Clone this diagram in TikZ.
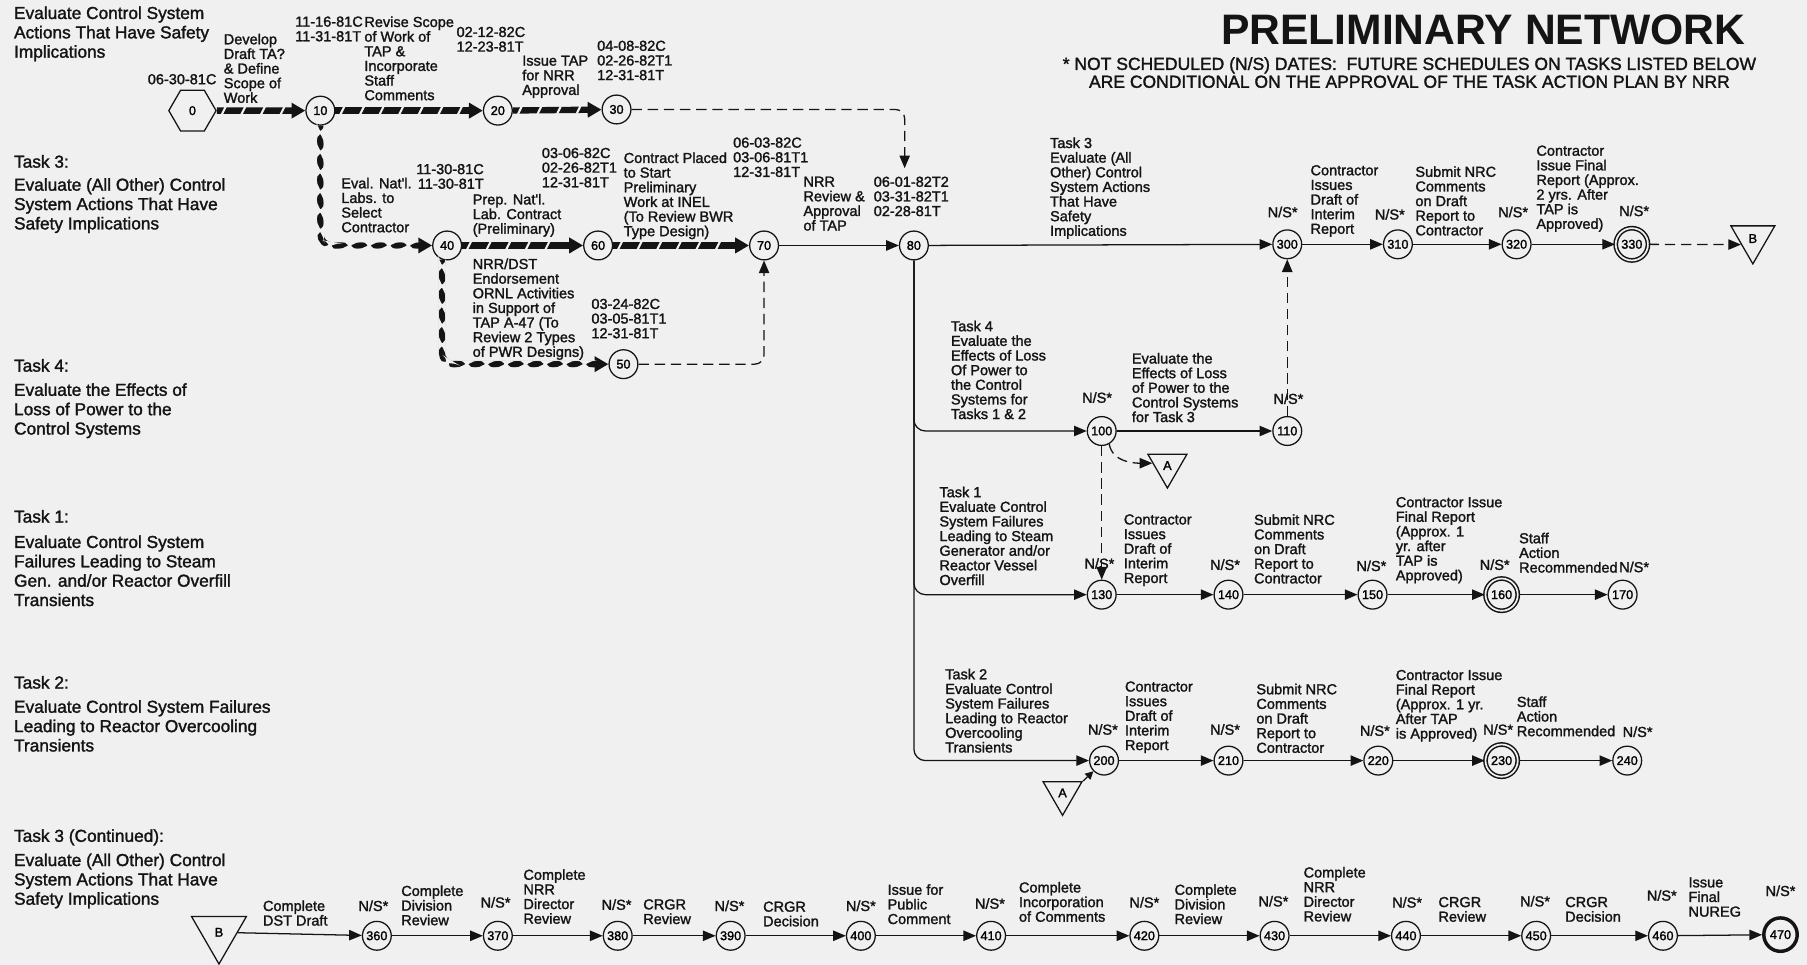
\documentclass[tikz,border=0pt]{standalone}
\usepackage{fontspec}
\setmainfont{Liberation Sans}
\newfontfamily\hv{Liberation Sans}[FakeBold=1.6]
\usetikzlibrary{arrows.meta,shapes.geometric,decorations.markings}
\definecolor{bg}{RGB}{240,240,240}
\definecolor{ink}{RGB}{20,20,20}
\newcommand\lbf{\hv\fontsize{12.6}{12.7}\selectfont}
\newcommand\lff{\hv\fontsize{15}{16.8}\selectfont}
\newcommand\evf{\hv\fontsize{11}{11}\selectfont}
\begin{document}
\begin{tikzpicture}[x=1pt,y=-1pt,
  ev/.style={circle,draw=ink,line width=1.1pt,minimum size=25pt,inner sep=0pt,font=\evf,fill=bg},
  dbl/.style={ev,double=bg,double distance=1.5pt,line width=1.3pt,minimum size=28pt},
  thk/.style={ev,line width=3pt,minimum size=29pt},
  hexa/.style={regular polygon,regular polygon sides=6,draw=ink,line width=1.1pt,minimum size=41pt,inner sep=0pt,font=\evf},
  tri/.style={regular polygon,regular polygon sides=3,shape border rotate=180,draw=ink,line width=1.1pt,inner sep=0pt,font=\evf,fill=bg},
  lbl/.style={font=\lbf,align=left,inner sep=0pt,anchor=north west,yshift=4.9pt,text=ink},
  lblr/.style={lbl,align=right,anchor=north east},
  lft/.style={font=\lff,align=left,inner sep=0pt,anchor=north west,yshift=5.6pt,text=ink},
  ns/.style={font=\lbf,inner sep=0pt,text=ink},
  ar/.style={draw=ink,line width=1.1pt,-{Triangle[length=11pt,width=9pt]}},
  dsh/.style={ar,dash pattern=on 9pt off 5pt},
  crit/.style={draw=ink,line width=5.5pt,-{Triangle[length=12pt,width=13pt]},
     postaction={decorate,decoration={markings,
       mark=between positions 6pt and -16pt step 17pt with {\fill[bg] (-2.6pt,-3.2pt) -- (-0.6pt,-3.2pt) -- (2.6pt,3.2pt) -- (0.6pt,3.2pt) -- cycle;}}}}
]
\fill[bg] (0,0) rectangle (1568,837);
\useasboundingbox (0,0) rectangle (1568,837);

% ---------- events ----------
\node[hexa] (n0) at (167,96) {0};
\node[ev] (n10) at (278,96) {10};
\node[ev] (n20) at (432,96) {20};
\node[ev] (n30) at (535,95) {30};
\node[ev] (n40) at (388,213) {40};
\node[ev] (n60) at (519,213) {60};
\node[ev] (n70) at (663,213) {70};
\node[ev] (n80) at (793,213) {80};
\node[ev] (n50) at (541,316) {50};
\node[ev] (n300) at (1117,212) {300};
\node[ev] (n310) at (1213,212) {310};
\node[ev] (n320) at (1316,212) {320};
\node[dbl] (n330) at (1416,212) {330};
\node[tri,minimum size=44pt] (B1) at (1521,207) {B};

\node[ev] (n100) at (956,374) {100};
\node[ev] (n110) at (1117,374) {110};
\node[tri,minimum size=39pt] (A1) at (1013,404) {A};

\node[ev] (n130) at (956,516) {130};
\node[ev] (n140) at (1066,516) {140};
\node[ev] (n150) at (1191,516) {150};
\node[dbl] (n160) at (1303,516) {160};
\node[ev] (n170) at (1408,516) {170};

\node[ev] (n200) at (958,660) {200};
\node[ev] (n210) at (1066,660) {210};
\node[ev] (n220) at (1196,660) {220};
\node[dbl] (n230) at (1303,660) {230};
\node[ev] (n240) at (1412,660) {240};
\node[tri,minimum size=39pt] (A2) at (922,688) {A};

\node[tri,minimum size=55pt] (B2) at (190,809) {B};
\node[ev] (n360) at (327,812) {360};
\node[ev] (n370) at (432,812) {370};
\node[ev] (n380) at (536,812) {380};
\node[ev] (n390) at (634,812) {390};
\node[ev] (n400) at (747,812) {400};
\node[ev] (n410) at (860,812) {410};
\node[ev] (n420) at (993,812) {420};
\node[ev] (n430) at (1106,812) {430};
\node[ev] (n440) at (1220,812) {440};
\node[ev] (n450) at (1333,812) {450};
\node[ev] (n460) at (1443,812) {460};
\node[thk] (n470) at (1545,811) {470};

% ---------- connectors ----------
\draw[crit] (n0) -- (n10);
\draw[crit] (n10) -- (n20);
\draw[crit] (n20) -- (n30);
\draw[crit,rounded corners=10pt] (n10.south) |- (n40);
\draw[crit] (n40) -- (n60);
\draw[crit] (n60) -- (n70);
\draw[crit,rounded corners=10pt] (n40.250) |- (n50);
\draw[dsh,rounded corners=8pt,shorten >=54pt] (n30) -| ([xshift=-8pt]n80.north);
\draw[dsh,rounded corners=8pt] (n50) -| (n70);
\draw[ar] (n70) -- (n80);
\draw[ar] (n80) -- (n300);
\draw[ar] (n300) -- (n310);
\draw[ar] (n310) -- (n320);
\draw[ar] (n320) -- (n330);
\draw[dsh] (n330) -- (B1.207);
\draw[ar,rounded corners=10pt] (n80.south) |- (n100);
\draw[ar,rounded corners=10pt] (n80.south) |- (n130);
\draw[ar,rounded corners=10pt] (n80.south) |- (n200);
\draw[ar] (n100) -- (n110);
\draw[dsh] (n110) -- (n300);
\draw[dsh] (n100) -- (n130);
\draw[dsh] (n100.-60) to[out=-80,in=180] (A1.171);
\draw[ar] (n130) -- (n140);
\draw[ar] (n140) -- (n150);
\draw[ar] (n150) -- (n160);
\draw[ar] (n160) -- (n170);
\draw[ar] (n200) -- (n210);
\draw[ar] (n210) -- (n220);
\draw[ar] (n220) -- (n230);
\draw[ar] (n230) -- (n240);
\draw[ar,-{Triangle[length=7pt,width=7pt]}] (A2.30) -- (n200.225);
\draw[ar] (B2) -- (n360);
\draw[ar] (n360) -- (n370);
\draw[ar] (n370) -- (n380);
\draw[ar] (n380) -- (n390);
\draw[ar] (n390) -- (n400);
\draw[ar] (n400) -- (n410);
\draw[ar] (n410) -- (n420);
\draw[ar] (n420) -- (n430);
\draw[ar] (n430) -- (n440);
\draw[ar] (n440) -- (n450);
\draw[ar] (n450) -- (n460);
\draw[ar] (n460) -- (n470);

% ---------- left column ----------
\node[lft] (t1) at (12,11) {Evaluate Control System\\Actions That Have Safety\\Implications};
\node[lft] (t2a) at (12,140) {Task 3:};
\node[lft] (t2b) at (12,160) {Evaluate (All Other) Control\\System Actions That Have\\Safety Implications};
\node[lft] (t3a) at (12,317) {Task 4:};
\node[lft] (t3b) at (12,338) {Evaluate the Effects of\\Loss of Power to the\\Control Systems};
\node[lft] (t4a) at (12,448) {Task 1:};
\node[lft] (t4b) at (12,470) {Evaluate Control System\\Failures Leading to Steam\\Gen. and/or Reactor Overfill\\Transients};
\node[lft] (t5a) at (12,592) {Task 2:};
\node[lft] (t5b) at (12,613) {Evaluate Control System Failures\\Leading to Reactor Overcooling\\Transients};
\node[lft] (t6a) at (12,725) {Task 3 (Continued):};
\node[lft] (t6b) at (12,746) {Evaluate (All Other) Control\\System Actions That Have\\Safety Implications};

% ---------- title ----------
\node[font=\fontsize{37}{37}\selectfont\bfseries,inner sep=0pt,text=ink] (title) at (1287,26) {PRELIMINARY NETWORK};
\node[font=\hv\fontsize{15.2}{15.5}\selectfont,align=center,inner sep=0pt,text=ink] (note) at (1223,63) {* NOT SCHEDULED (N/S) DATES:\ \ FUTURE SCHEDULES ON TASKS LISTED BELOW\\ARE CONDITIONAL ON THE APPROVAL OF THE TASK ACTION PLAN BY NRR};

% ---------- top labels ----------
\node[lblr] (d0) at (188,69) {06-30-81C};
\node[lbl] (a1) at (194,34) {Develop\\Draft TA?\\\& Define\\Scope of\\Work};
\node[lbl] (d10) at (256,19) {11-16-81C\\11-31-81T};
\node[lbl] (a2) at (316,19) {Revise Scope\\of Work of\\TAP \&\\Incorporate\\Staff\\Comments};
\node[lbl] (d20) at (396,28) {02-12-82C\\12-23-81T};
\node[lbl] (a3) at (453,53) {Issue TAP\\for NRR\\Approval};
\node[lbl] (d30) at (518,40) {04-08-82C\\02-26-82T1\\12-31-81T};

\node[lblr] (d40) at (420,147) {11-30-81C\\11-30-81T};
\node[lbl] (a4) at (296,159) {Eval. Nat'l.\\Labs. to\\Select\\Contractor};
\node[lbl] (d60) at (470,133) {03-06-82C\\02-26-82T1\\12-31-81T};
\node[lbl] (a5) at (410,173) {Prep. Nat'l.\\Lab. Contract\\(Preliminary)};
\node[lbl] (a6) at (541,137) {Contract Placed\\to Start\\Preliminary\\Work at INEL\\(To Review BWR\\Type Design)};
\node[lbl] (d70) at (636,124) {06-03-82C\\03-06-81T1\\12-31-81T};
\node[lbl] (a7) at (697,158) {NRR\\Review \&\\Approval\\of TAP};
\node[lbl] (d80) at (758,158) {06-01-82T2\\03-31-82T1\\02-28-81T};
\node[lbl] (a8) at (410,229) {NRR/DST\\Endorsement\\ORNL Activities\\in Support of\\TAP A-47 (To\\Review 2 Types\\of PWR Designs)};
\node[lbl] (d50) at (513,264) {03-24-82C\\03-05-81T1\\12-31-81T};

% ---------- task 3 row ----------
\node[lbl] (a9) at (911,124) {Task 3\\Evaluate (All\\Other) Control\\System Actions\\That Have\\Safety\\Implications};
\node[ns] (s300) at (1113,184) {N/S*};
\node[lbl] (a10) at (1137,148) {Contractor\\Issues\\Draft of\\Interim\\Report};
\node[ns] (s310) at (1206,186) {N/S*};
\node[lbl] (a11) at (1228,149) {Submit NRC\\Comments\\on Draft\\Report to\\Contractor};
\node[ns] (s320) at (1313,184) {N/S*};
\node[lbl] (a12) at (1333,131) {Contractor\\Issue Final\\Report (Approx.\\2 yrs. After\\TAP is\\Approved)};
\node[ns] (s330) at (1418,183) {N/S*};

% ---------- task 4 ----------
\node[lbl] (a13) at (825,283) {Task 4\\Evaluate the\\Effects of Loss\\Of Power to\\the Control\\Systems for\\Tasks 1 \& 2};
\node[ns] (s100) at (952,345) {N/S*};
\node[lbl] (a14) at (982,311) {Evaluate the\\Effects of Loss\\of Power to the\\Control Systems\\for Task 3};
\node[ns] (s110) at (1118,346) {N/S*};

% ---------- task 1 ----------
\node[lbl] (a15) at (815,427) {Task 1\\Evaluate Control\\System Failures\\Leading to Steam\\Generator and/or\\Reactor Vessel\\Overfill};
\node[ns] (s130) at (954,489) {N/S*};
\node[lbl] (a16) at (975,451) {Contractor\\Issues\\Draft of\\Interim\\Report};
\node[ns] (s140) at (1063,490) {N/S*};
\node[lbl] (a17) at (1088,451) {Submit NRC\\Comments\\on Draft\\Report to\\Contractor};
\node[ns] (s150) at (1190,491) {N/S*};
\node[lbl] (a18) at (1211,436) {Contractor Issue\\Final Report\\(Approx. 1\\yr. after\\TAP is\\Approved)};
\node[ns] (s160) at (1297,490) {N/S*};
\node[lbl] (a19) at (1318,467) {Staff\\Action\\Recommended};
\node[ns] (s170) at (1418,492) {N/S*};

% ---------- task 2 ----------
\node[lbl] (a20) at (820,585) {Task 2\\Evaluate Control\\System Failures\\Leading to Reactor\\Overcooling\\Transients};
\node[ns] (s200) at (957,633) {N/S*};
\node[lbl] (a21) at (976,596) {Contractor\\Issues\\Draft of\\Interim\\Report};
\node[ns] (s210) at (1063,633) {N/S*};
\node[lbl] (a22) at (1090,598) {Submit NRC\\Comments\\on Draft\\Report to\\Contractor};
\node[ns] (s220) at (1193,634) {N/S*};
\node[lbl] (a23) at (1211,586) {Contractor Issue\\Final Report\\(Approx. 1 yr.\\After TAP\\is Approved)};
\node[ns] (s230) at (1300,633) {N/S*};
\node[lbl] (a24) at (1316,609) {Staff\\Action\\Recommended};
\node[ns] (s240) at (1421,635) {N/S*};

% ---------- bottom row ----------
\node[lbl] (b1) at (228,786) {Complete\\DST Draft};
\node[ns] (s360) at (324,786) {N/S*};
\node[lbl] (b2) at (348,773) {Complete\\Division\\Review};
\node[ns] (s370) at (430,783) {N/S*};
\node[lbl] (b3) at (454,759) {Complete\\NRR\\Director\\Review};
\node[ns] (s380) at (535,785) {N/S*};
\node[lbl] (b4) at (558,785) {CRGR\\Review};
\node[ns] (s390) at (633,786) {N/S*};
\node[lbl] (b5) at (662,787) {CRGR\\Decision};
\node[ns] (s400) at (747,786) {N/S*};
\node[lbl] (b6) at (770,772) {Issue for\\Public\\Comment};
\node[ns] (s410) at (859,784) {N/S*};
\node[lbl] (b7) at (884,770) {Complete\\Incorporation\\of Comments};
\node[ns] (s420) at (993,783) {N/S*};
\node[lbl] (b8) at (1019,772) {Complete\\Division\\Review};
\node[ns] (s430) at (1105,782) {N/S*};
\node[lbl] (b9) at (1131,757) {Complete\\NRR\\Director\\Review};
\node[ns] (s440) at (1221,783) {N/S*};
\node[lbl] (b10) at (1248,783) {CRGR\\Review};
\node[ns] (s450) at (1332,782) {N/S*};
\node[lbl] (b11) at (1358,783) {CRGR\\Decision};
\node[ns] (s460) at (1442,777) {N/S*};
\node[lbl] (b12) at (1465,766) {Issue\\Final\\NUREG};
\node[ns] (s470) at (1545,773) {N/S*};
\end{tikzpicture}
\end{document}
